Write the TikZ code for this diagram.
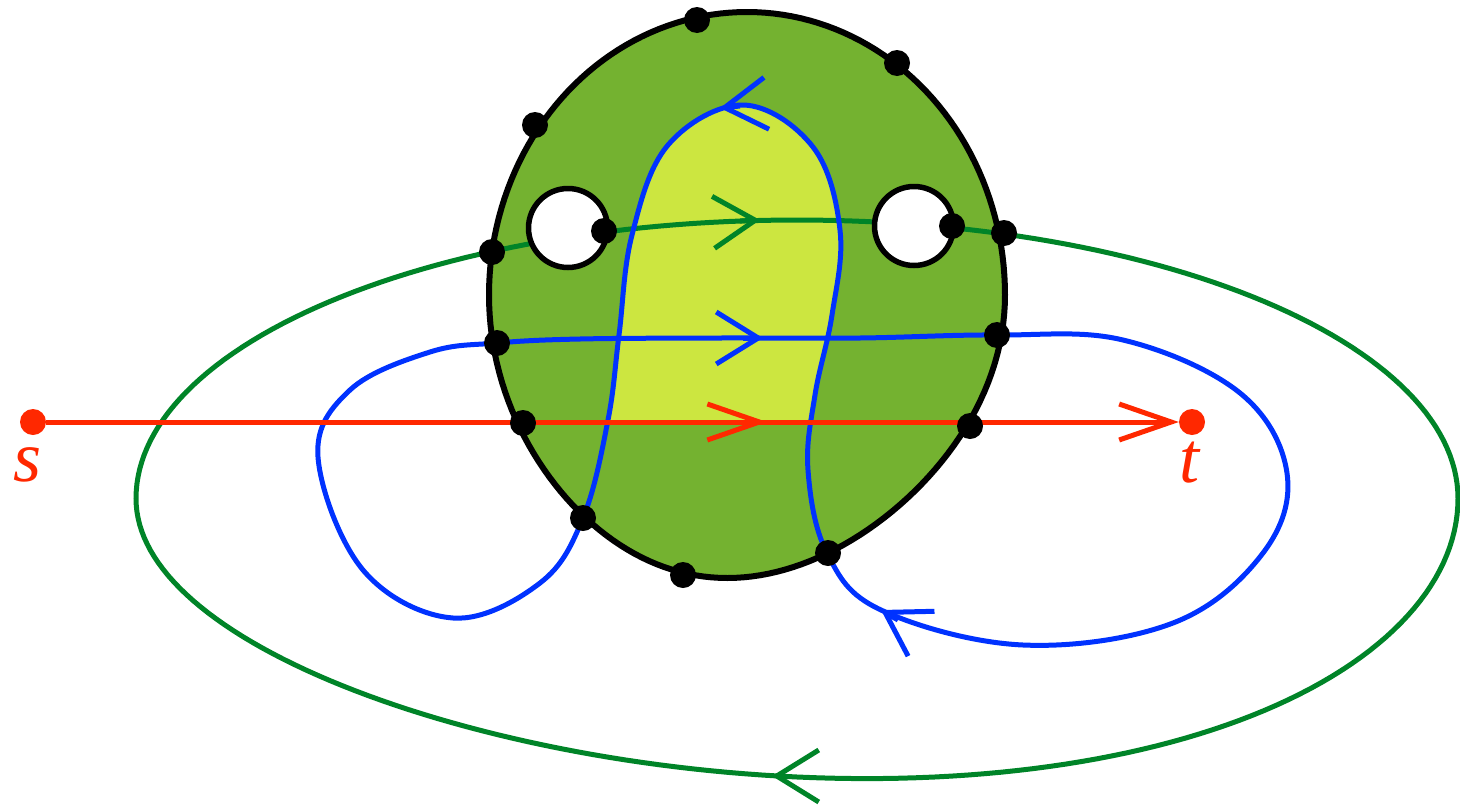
\documentclass[tikz,border=0pt]{standalone}
\usepackage{fontspec}
\newfontfamily\labelfont{Liberation Serif}
\usetikzlibrary{arrows.meta}
\definecolor{diskfill}{RGB}{116,178,48}
\definecolor{bandfill}{RGB}{204,230,64}
\definecolor{loopblue}{RGB}{0,50,255}
\definecolor{pathred}{RGB}{255,40,0}
\definecolor{loopgreen}{RGB}{0,132,40}
\tikzset{
  Vbig/.tip={Straight Barb[length=42pt,width=52pt]},
  Vred/.tip={Straight Barb[length=52pt,width=36pt]},
  curve/.style={line width=5pt, draw=#1},
  tipmark/.style={curve=#1, -{Vbig}},
  pin/.style={circle, fill=black, inner sep=0pt, minimum size=26pt},
  endpt/.style={circle, fill=pathred, inner sep=0pt, minimum size=26pt},
  hole/.style={circle, draw=black, fill=white, line width=5.5pt,
    minimum size=79pt, inner sep=0pt},
  lbl/.style={text=pathred, inner sep=0pt,
    font=\labelfont\itshape\fontsize{72}{72}\selectfont},
}

\begin{document}
\begin{tikzpicture}[x=1pt,y=-1pt]
  \useasboundingbox (0,0) rectangle (1460,809);

  % the disc (an egg, narrower at the bottom right)
  \filldraw[fill=diskfill, line width=6pt] plot[domain=0:360, samples=181]
    ({747+258*cos(\x)-(19.7+25.5*cos(\x))*(max(0,-sin(\x)))^2},
     {295-283*sin(\x)}) -- cycle;

  % band between the two strands, above s--t
  \begin{scope}
    \clip (0,0) rectangle (1460,422);
    \fill[bandfill] plot[smooth, tension=0.62] coordinates {
      (827,553) (808,470) (815,395) (832,315) (840,230) (813,147) (743,105)
      (668,145) (632,235) (619,335) (608,420) (583,518) (540,583)} -- cycle;
  \end{scope}

  % green loop through both holes
  \draw[curve=loopgreen] plot[domain=0:360, samples=241]
    ({797+661*cos(\x)},
     {498.5-278.5*sin(\x)+30*cos(\x)*max(0,-sin(\x))}) -- cycle;
  \draw[tipmark=loopgreen] (740,221) -- (760,220);
  \draw[tipmark=loopgreen] (792,776) -- (772,776);

  % blue loop
  \draw[curve=loopblue] plot[smooth cycle, tension=0.62] coordinates {
      (497,343) (580,339) (720,338) (860,338) (997,335) (1123,340)
      (1240,393) (1287,473) (1263,553) (1173,623) (1023,645) (881,610)
      (827,553) (808,470) (815,395) (832,315) (840,230) (813,147)
      (743,105) (668,145) (632,235) (619,335) (608,420) (583,518)
      (540,583) (453,618) (363,570) (318,457) (350,390) (430,352)};
  \draw[tipmark=loopblue] (743,338) -- (763,338);
  \draw[tipmark=loopblue] (740,106) -- (720,108);
  \draw[tipmark=loopblue] (898,620) -- (881,610);

  % holes
  \node[hole] (holeL) at (568,228) {};
  \node[hole] (holeR) at (914,226) {};

  % s -- t
  \node[endpt] (s) at (33,422) {};
  \node[endpt] (t) at (1192,422) {};
  \draw[curve=pathred, -{Vred}] (s) -- (t);
  \draw[curve=pathred, -{Vred}] (747,422) -- (767,422);
  \node[lbl] (slbl) at (28,465) {s};
  \node[lbl] (tlbl) at (1189,463) {t};

  % marked points
  \foreach \px/\py [count=\k] in {697/20, 897/63, 535/125, 492/252,
      1004/233, 497/343, 997/335, 523/423, 970/426, 583/518, 683/575,
      828/553, 604/231, 952/226}
    \node[pin] (p\k) at (\px,\py) {};
\end{tikzpicture}
\end{document}
